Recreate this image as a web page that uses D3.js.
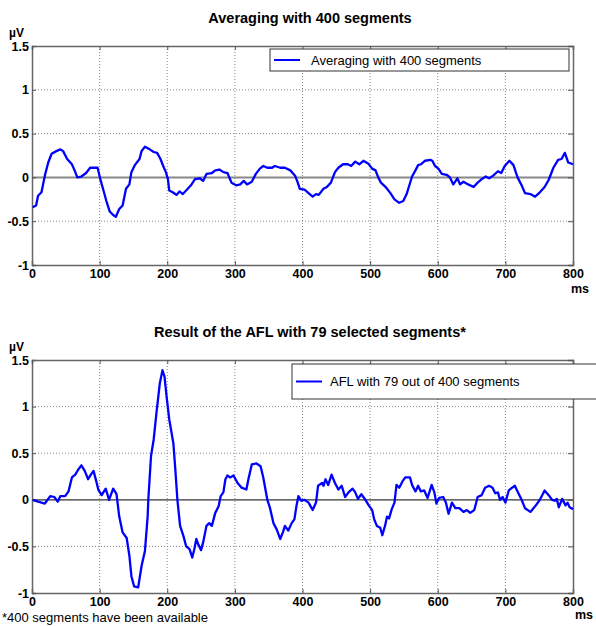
<!DOCTYPE html>
<html>
<head>
<meta charset="utf-8">
<script src="https://cdn.jsdelivr.net/npm/d3@7"></script>
<style>
  body { margin: 0; background: #fff; }
  svg { display: block; font-family: "Liberation Sans", Arial, sans-serif; }
</style>
</head>
<body>
<div id="chart"></div>
<script>
// Values (ms, µV)
const avgTime = [1, 6, 9, 14, 19, 24, 29, 36, 42, 46, 52, 59, 63, 67, 73, 80, 86, 93, 97, 101, 105, 110, 115, 120, 124, 129, 134, 139, 144, 147, 152, 159, 162, 167, 174, 180, 185, 190, 194, 198, 201, 203, 208, 214, 218, 223, 229, 236, 241, 248, 253, 258, 266, 271, 277, 283, 289, 295, 302, 308, 313, 318, 325, 331, 337, 342, 348, 355, 359, 367, 374, 382, 389, 393, 396, 403, 409, 415, 420, 424, 431, 436, 442, 448, 453, 460, 467, 472, 478, 484, 490, 497, 503, 508, 512, 516, 523, 530, 536, 543, 549, 554, 558, 562, 567, 571, 575, 581, 589, 592, 596, 601, 606, 613, 618, 623, 629, 633, 638, 645, 653, 659, 665, 671, 676, 682, 689, 694, 699, 706, 712, 718, 724, 729, 737, 744, 751, 758, 764, 771, 778, 783, 788, 793, 800];
const avgValues = [-0.34, -0.32, -0.21, -0.17, 0.02, 0.17, 0.27, 0.30, 0.32, 0.30, 0.21, 0.15, 0.08, 0.0, 0.01, 0.05, 0.11, 0.11, 0.11, -0.02, -0.13, -0.27, -0.39, -0.43, -0.45, -0.36, -0.32, -0.13, -0.08, 0.06, 0.14, 0.21, 0.30, 0.35, 0.32, 0.29, 0.28, 0.21, 0.13, 0.06, -0.02, -0.15, -0.17, -0.20, -0.16, -0.19, -0.14, -0.08, -0.02, -0.01, -0.04, 0.04, 0.05, 0.08, 0.09, 0.06, 0.05, -0.06, -0.09, -0.08, -0.04, -0.08, -0.05, 0.04, 0.10, 0.13, 0.11, 0.11, 0.13, 0.11, 0.11, 0.08, 0.02, -0.06, -0.13, -0.14, -0.18, -0.22, -0.19, -0.20, -0.13, -0.11, -0.06, 0.06, 0.11, 0.15, 0.15, 0.13, 0.18, 0.15, 0.19, 0.16, 0.10, 0.08, 0.0, -0.06, -0.11, -0.18, -0.25, -0.29, -0.27, -0.19, -0.09, 0.01, 0.08, 0.14, 0.15, 0.19, 0.20, 0.19, 0.13, 0.10, 0.04, 0.03, 0.0, -0.08, -0.01, -0.08, -0.05, -0.08, -0.11, -0.06, -0.02, 0.01, -0.01, 0.02, 0.07, 0.05, 0.13, 0.19, 0.14, 0.0, -0.09, -0.18, -0.19, -0.22, -0.17, -0.11, -0.03, 0.11, 0.20, 0.21, 0.28, 0.17, 0.15];

const aflTime = [1, 9, 19, 27, 33, 38, 42, 49, 54, 59, 64, 68, 73, 78, 83, 87, 91, 95, 98, 103, 109, 114, 120, 125, 129, 134, 140, 144, 147, 151, 157, 162, 167, 171, 172, 176, 180, 184, 189, 193, 196, 199, 203, 209, 212, 215, 219, 224, 228, 233, 237, 240, 243, 246, 250, 253, 258, 262, 266, 271, 276, 279, 283, 286, 289, 293, 298, 304, 310, 317, 320, 325, 332, 338, 342, 348, 352, 357, 362, 367, 371, 374, 379, 384, 388, 391, 394, 398, 403, 409, 415, 420, 423, 429, 431, 434, 438, 443, 448, 453, 458, 463, 468, 474, 478, 482, 487, 493, 498, 503, 506, 510, 515, 518, 522, 525, 528, 532, 536, 539, 543, 548, 552, 559, 562, 567, 571, 575, 580, 585, 591, 595, 598, 602, 608, 612, 616, 621, 626, 632, 638, 643, 648, 654, 659, 665, 670, 676, 681, 685, 689, 692, 696, 700, 705, 710, 714, 718, 724, 729, 737, 744, 751, 758, 764, 769, 773, 776, 779, 784, 789, 792, 795, 800];
const aflValues = [0.0, -0.02, -0.04, 0.04, 0.03, -0.02, 0.04, 0.04, 0.09, 0.24, 0.27, 0.32, 0.37, 0.31, 0.22, 0.27, 0.31, 0.20, 0.11, 0.05, 0.12, 0.0, 0.12, 0.06, -0.18, -0.35, -0.41, -0.60, -0.82, -0.93, -0.94, -0.71, -0.55, -0.18, 0.0, 0.47, 0.65, 0.93, 1.25, 1.39, 1.32, 1.11, 0.86, 0.61, 0.32, 0.0, -0.28, -0.39, -0.50, -0.53, -0.62, -0.53, -0.42, -0.48, -0.54, -0.46, -0.28, -0.25, -0.28, -0.14, -0.07, 0.04, 0.08, 0.22, 0.26, 0.24, 0.26, 0.18, 0.13, 0.11, 0.22, 0.38, 0.39, 0.36, 0.24, 0.0, -0.09, -0.25, -0.32, -0.42, -0.35, -0.28, -0.33, -0.25, -0.21, -0.07, 0.04, -0.01, 0.0, -0.03, -0.11, -0.03, 0.15, 0.18, 0.15, 0.22, 0.16, 0.27, 0.18, 0.11, 0.15, 0.03, 0.08, 0.12, 0.08, 0.01, 0.06, 0.0, -0.06, -0.11, -0.21, -0.28, -0.30, -0.38, -0.28, -0.18, -0.20, -0.10, -0.03, 0.16, 0.13, 0.20, 0.24, 0.24, 0.16, 0.09, 0.15, 0.09, 0.10, 0.02, 0.16, 0.08, -0.04, 0.02, 0.03, -0.03, -0.15, -0.03, -0.09, -0.09, -0.13, -0.11, -0.14, -0.11, 0.03, 0.05, 0.13, 0.15, 0.13, 0.07, 0.08, 0.0, 0.03, -0.03, 0.10, 0.13, 0.15, 0.09, 0.0, -0.09, -0.13, -0.07, 0.0, 0.10, 0.05, 0.0, -0.01, 0.01, -0.08, 0.01, -0.06, -0.03, -0.08, -0.10];

const xTicks = [0, 100, 200, 300, 400, 500, 600, 700, 800];
const yTicks = [-1, -0.5, 0, 0.5, 1, 1.5];

const width = 596;
const height = 626;

const svg = d3
  .select("#chart")
  .append("svg")
  .attr("width", width)
  .attr("height", height);

function drawPanel(opt) {
  const x = d3.scaleLinear().domain([0, 800]).range([32, 573]);
  const y = d3.scaleLinear().domain([-1, 1.5]).range([opt.bottom, opt.top]);
  const g = svg.append("g");

  // dotted grid (zero gets its own solid line)
  g.selectAll("line.vgrid")
    .data(xTicks.slice(1, -1))
    .enter()
    .append("line")
    .attr("x1", (d) => x(d))
    .attr("x2", (d) => x(d))
    .attr("y1", opt.top)
    .attr("y2", opt.bottom)
    .attr("stroke", "#888")
    .attr("stroke-width", 1)
    .attr("stroke-dasharray", "1,2");

  g.selectAll("line.hgrid")
    .data(yTicks.filter((d) => d !== 0 && d !== -1 && d !== 1.5))
    .enter()
    .append("line")
    .attr("x1", 32)
    .attr("x2", 573)
    .attr("y1", (d) => y(d))
    .attr("y2", (d) => y(d))
    .attr("stroke", "#888")
    .attr("stroke-width", 1)
    .attr("stroke-dasharray", "1,2");

  // zero line
  g.append("line")
    .attr("x1", 32)
    .attr("x2", 573)
    .attr("y1", y(0))
    .attr("y2", y(0))
    .attr("stroke", opt.zeroColor)
    .attr("stroke-width", opt.zeroWidth);

  // axes with inward ticks on all four sides
  const bottomAxis = d3.axisBottom(x).tickValues(xTicks).tickSize(-4).tickPadding(4);
  const leftAxis = d3.axisLeft(y).tickValues(yTicks).tickSize(-4).tickPadding(3)
    .tickFormat((d) => String(d)); // plain hyphen, like the original

  const ax = g.append("g").attr("transform", `translate(0,${opt.bottom})`).call(bottomAxis);
  const ay = g.append("g").attr("transform", "translate(32,0)").call(leftAxis);
  g.append("g").attr("transform", `translate(0,${opt.top})`)
    .call(d3.axisTop(x).tickValues(xTicks).tickSize(-4).tickFormat(""));
  g.append("g").attr("transform", "translate(573,0)")
    .call(d3.axisRight(y).tickValues(yTicks).tickSize(-5).tickFormat(""));

  g.selectAll(".domain").attr("stroke", "#666").attr("stroke-width", 1.5);
  g.selectAll(".tick line").attr("stroke", "#555");
  [ax, ay].forEach((a) =>
    a.selectAll("text")
      .attr("fill", "#000")
      .attr("font-size", 12.5)
      .attr("font-weight", "bold")
      .attr("font-family", "Liberation Sans, Arial, sans-serif")
  );

  // signal
  const line = d3.line().x((d) => x(d[0])).y((d) => y(d[1]));
  g.append("path")
    .datum(d3.zip(opt.time, opt.values))
    .attr("d", line)
    .attr("fill", "none")
    .attr("stroke", "#0000ff")
    .attr("stroke-width", 2.3)
    .attr("stroke-linejoin", "round");

  // title and unit labels
  g.append("text")
    .attr("x", 310)
    .attr("y", opt.top - 23)
    .attr("text-anchor", "middle")
    .attr("font-size", 14.5)
    .attr("font-weight", "bold")
    .text(opt.title);

  g.append("text")
    .attr("x", 9)
    .attr("y", opt.top - 9)
    .attr("font-size", 12)
    .attr("font-weight", "bold")
    .text("µV");

  g.append("text")
    .attr("x", opt.msX)
    .attr("y", opt.bottom + opt.msOffset)
    .attr("font-size", 12.5)
    .attr("font-weight", "bold")
    .text("ms");

  // legend
  const lg = opt.legend;
  g.append("rect")
    .attr("x", lg.x)
    .attr("y", lg.y)
    .attr("width", lg.w)
    .attr("height", lg.h)
    .attr("fill", "#fff")
    .attr("stroke", "#333")
    .attr("stroke-width", 1);
  g.append("line")
    .attr("x1", lg.x + 4)
    .attr("x2", lg.x + 30)
    .attr("y1", lg.y + lg.h / 2)
    .attr("y2", lg.y + lg.h / 2)
    .attr("stroke", "#0000ff")
    .attr("stroke-width", 2);
  g.append("text")
    .attr("x", lg.x + lg.tx)
    .attr("y", lg.y + lg.h / 2 + 4.5)
    .attr("font-size", 13)
    .text(lg.label);
}

drawPanel({
  top: 46,
  bottom: 265,
  time: avgTime,
  values: avgValues,
  title: "Averaging with 400 segments",
  zeroColor: "#888",
  zeroWidth: 2,
  msX: 571,
  msOffset: 28,
  legend: { x: 270, y: 49, w: 299, h: 22, tx: 41, label: "Averaging with 400 segments" }
});

drawPanel({
  top: 360,
  bottom: 593,
  time: aflTime,
  values: aflValues,
  title: "Result of the AFL with 79 selected segments*",
  zeroColor: "#333",
  zeroWidth: 1.2,
  msX: 575,
  msOffset: 26,
  legend: { x: 292, y: 364, w: 320, h: 35, tx: 38, label: "AFL with 79 out of 400 segments" }
});

svg.append("text")
  .attr("x", 2)
  .attr("y", 622)
  .attr("font-size", 13)
  .text("*400 segments have been available");
</script>
</body>
</html>
